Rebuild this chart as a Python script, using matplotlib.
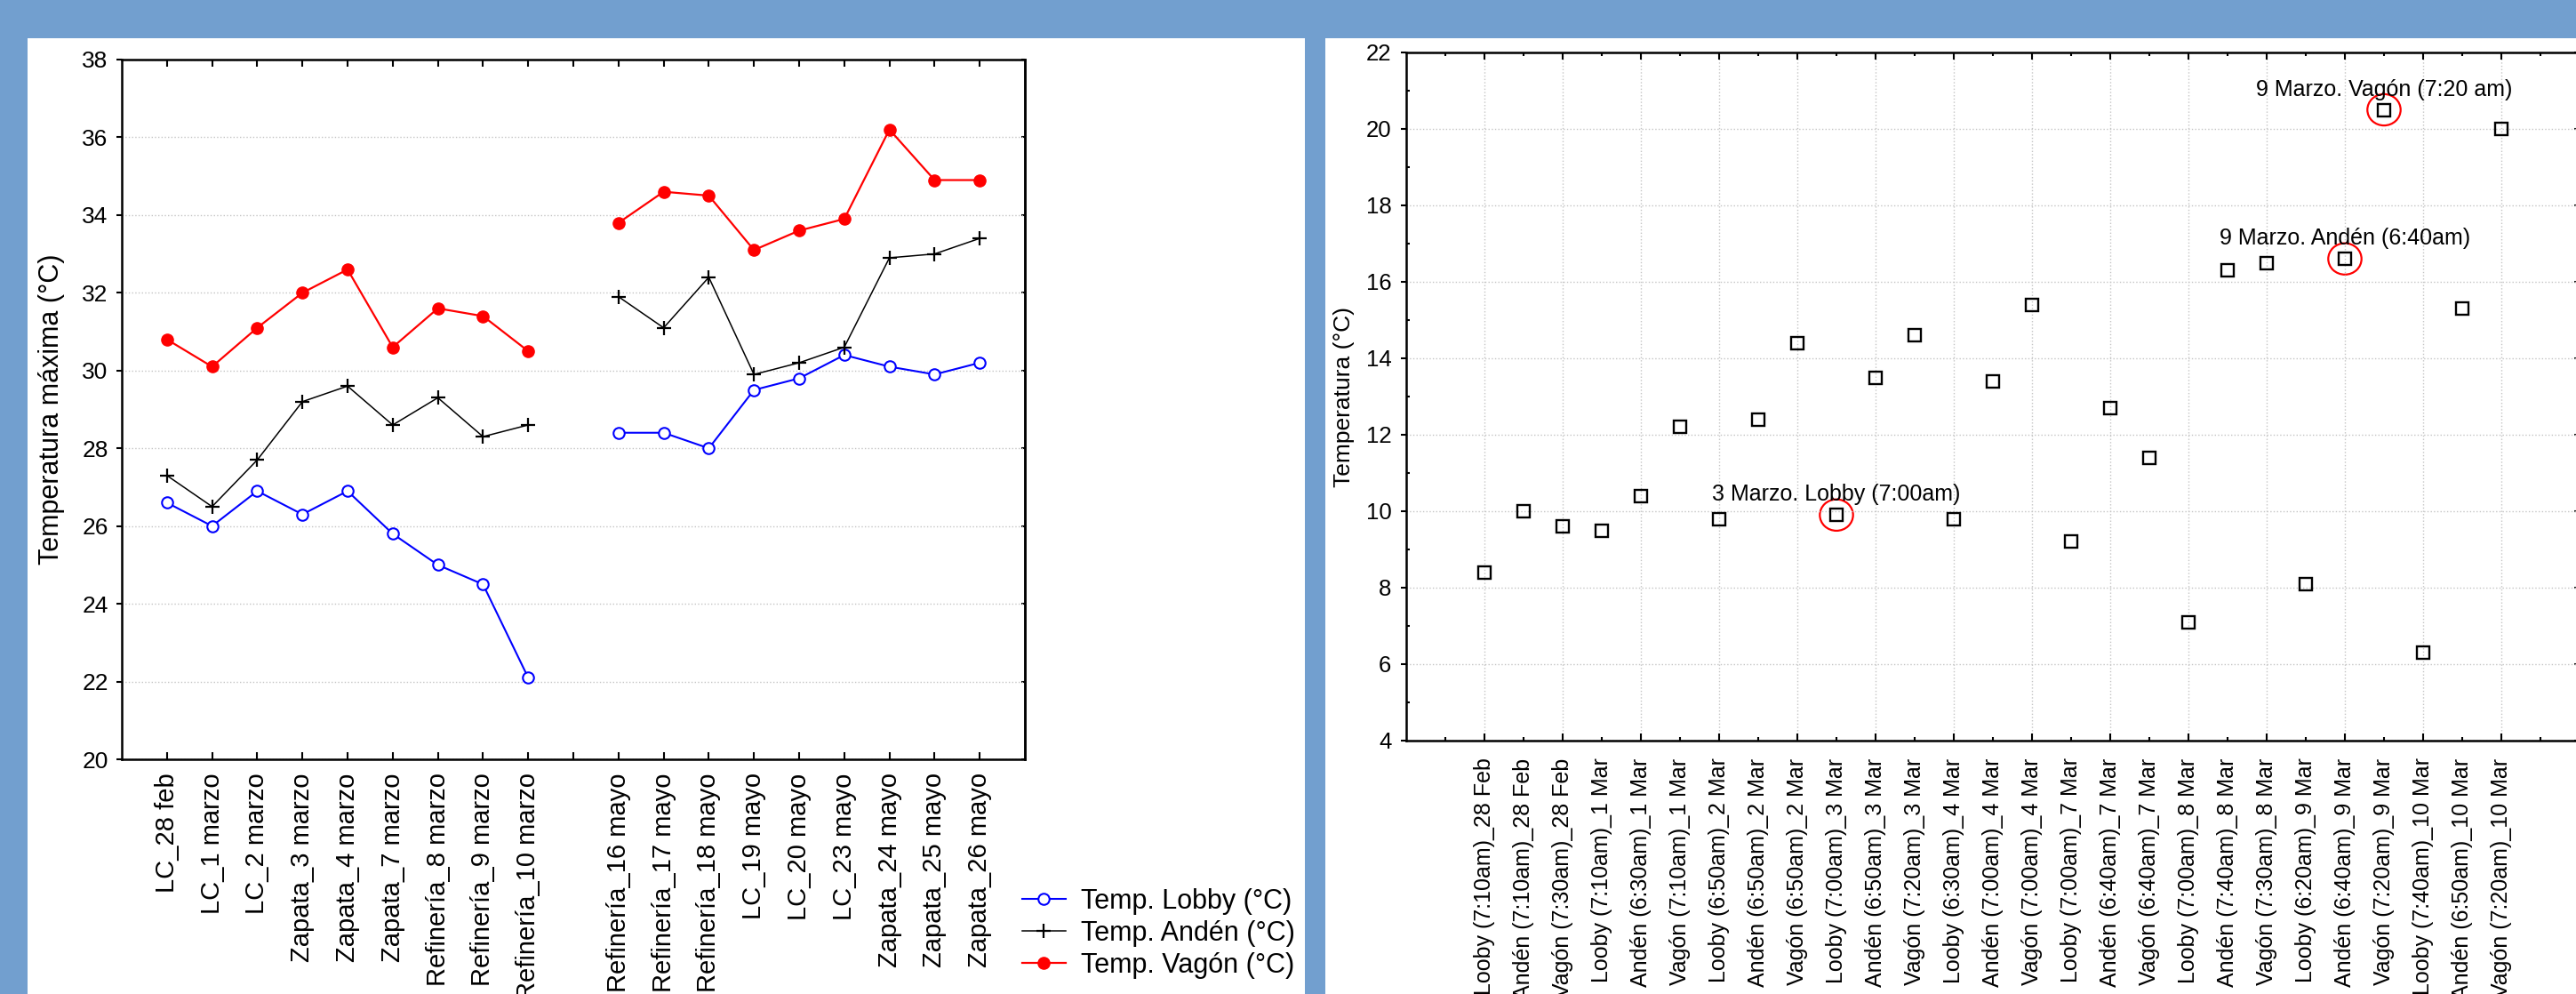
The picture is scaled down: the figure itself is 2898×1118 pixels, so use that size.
import matplotlib.pyplot as plt
import numpy as np
from matplotlib.patches import Rectangle, Ellipse

plt.rcParams['font.family'] = ['Liberation Sans', 'DejaVu Sans']

# left chart: maximum temperature per site and day
dias = ['LC_28 feb', 'LC_1 marzo', 'LC_2 marzo', 'Zapata_3 marzo', 'Zapata_4 marzo',
        'Zapata_7 marzo', 'Refinería_8 marzo', 'Refinería_9 marzo', 'Refinería_10 marzo', '',
        'Refinería_16 mayo', 'Refinería_17 mayo', 'Refinería_18 mayo', 'LC_19 mayo',
        'LC_20 mayo', 'LC_23 mayo', 'Zapata_24 mayo', 'Zapata_25 mayo', 'Zapata_26 mayo']
lobby = [26.6, 26.0, 26.9, 26.3, 26.9, 25.8, 25.0, 24.5, 22.1, np.nan,
         28.4, 28.4, 28.0, 29.5, 29.8, 30.4, 30.1, 29.9, 30.2]
anden = [27.3, 26.5, 27.7, 29.2, 29.6, 28.6, 29.3, 28.3, 28.6, np.nan,
         31.9, 31.1, 32.4, 29.9, 30.2, 30.6, 32.9, 33.0, 33.4]
vagon = [30.8, 30.1, 31.1, 32.0, 32.6, 30.6, 31.6, 31.4, 30.5, np.nan,
         33.8, 34.6, 34.5, 33.1, 33.6, 33.9, 36.2, 34.9, 34.9]

# right chart: morning readings
lecturas = ['Looby (7:10am)_28 Feb', 'Andén (7:10am)_28 Feb', 'Vagón (7:30am)_28 Feb',
            'Looby (7:10am)_1 Mar', 'Andén (6:30am)_1 Mar', 'Vagón (7:10am)_1 Mar',
            'Looby (6:50am)_2 Mar', 'Andén (6:50am)_2 Mar', 'Vagón (6:50am)_2 Mar',
            'Looby (7:00am)_3 Mar', 'Andén (6:50am)_3 Mar', 'Vagón (7:20am)_3 Mar',
            'Looby (6:30am)_4 Mar', 'Andén (7:00am)_4 Mar', 'Vagón (7:00am)_4 Mar',
            'Looby (7:00am)_7 Mar', 'Andén (6:40am)_7 Mar', 'Vagón (6:40am)_7 Mar',
            'Looby (7:00am)_8 Mar', 'Andén (7:40am)_8 Mar', 'Vagón (7:30am)_8 Mar',
            'Looby (6:20am)_9 Mar', 'Andén (6:40am)_9 Mar', 'Vagón (7:20am)_9 Mar',
            'Looby (7:40am)_10 Mar', 'Andén (6:50am)_10 Mar', 'Vagón (7:20am)_10 Mar']
temps = [8.4, 10.0, 9.6, 9.5, 10.4, 12.2, 9.8, 12.4, 14.4, 9.9, 13.5, 14.6, 9.8, 13.4,
         15.4, 9.2, 12.7, 11.4, 7.1, 16.3, 16.5, 8.1, 16.6, 20.5, 6.3, 15.3, 20.0]
destacados = {9: '3 Marzo. Lobby (7:00am)',
              22: '9 Marzo. Andén (6:40am)',
              23: '9 Marzo. Vagón (7:20 am)'}

W, H = 2898, 1118
fig = plt.figure(figsize=(W / 100, H / 100), dpi=100, facecolor='#729FCF')
fig.add_artist(Rectangle((31 / W, 0), 1437 / W, 1075 / H, transform=fig.transFigure,
                         fc='white', ec='none', zorder=-1))
fig.add_artist(Rectangle((1491 / W, 0), 1, 1075 / H, transform=fig.transFigure,
                         fc='white', ec='none', zorder=-1))

grid_kw = dict(color='#c4c4c4', ls=':', lw=1)

# ---- left plot
ax1 = fig.add_axes([137 / W, 264 / H, 1016 / W, 787 / H])
x = np.arange(len(dias))
ax1.plot(x, lobby, color='blue', lw=1.5, marker='o', ms=9, mfc='white', mec='blue',
         mew=1.5, label='Temp. Lobby (°C)')
ax1.plot(x, anden, color='black', lw=1.1, marker='+', ms=11, mew=1.6,
         label='Temp. Andén (°C)')
ax1.plot(x, vagon, color='red', lw=1.6, marker='o', ms=9.5, mfc='red', mec='red',
         label='Temp. Vagón (°C)')
ax1.set_xlim(-1, len(dias))
ax1.set_ylim(20, 38)
ax1.set_yticks(np.arange(20, 39, 2))
ax1.set_xticks(x, dias, rotation=90, fontsize=21)
ax1.tick_params(axis='x', direction='in', top=True, length=6, width=1.5, pad=11)
ax1.tick_params(axis='y', direction='out', length=4, width=1.5, labelsize=19, pad=7)
ax1.grid(axis='y', **grid_kw)
ax1.set_ylabel('Temperatura máxima (°C)', fontsize=22)
ax1.yaxis.set_label_coords(-0.063, 0.5)
sec1 = ax1.secondary_yaxis('right')
sec1.set_yticks(np.arange(20, 39, 2))
sec1.tick_params(direction='in', length=3, width=1.5, labelright=False)
for sp in list(ax1.spines.values()) + [sec1.spines['right']]:
    sp.set_linewidth(1.8)

fig.legend(handles=ax1.get_lines(), loc='center left',
           bbox_to_anchor=(1150 / W, (H - 1050) / H), frameon=False, fontsize=22,
           handlelength=1.6, handletextpad=0.55, labelspacing=0.2, borderpad=0,
           borderaxespad=0)

# ---- right plot
ax2 = fig.add_axes([1582 / W, 285 / H, 1320 / W, 774 / H])
xs = np.arange(len(lecturas))
ax2.plot(xs, temps, ls='none', marker='s', ms=9.5, mfc='none', mec='black', mew=1.7)
ax2.set_xlim(-2, len(lecturas) + 1)
ax2.set_ylim(4, 22)
ax2.set_yticks(np.arange(4, 23, 2))
ax2.set_yticks(np.arange(5, 22, 2), minor=True)
ax2.set_xticks(xs[::2], [lecturas[i] for i in xs[::2]], rotation=90, fontsize=18)
minor_pos = np.arange(-1, len(lecturas) + 1, 2)
ax2.set_xticks(minor_pos, [lecturas[i] if 0 <= i < len(lecturas) else '' for i in minor_pos],
               minor=True, rotation=90, fontsize=18)
ax2.tick_params(axis='x', which='major', direction='in', top=True, length=6, width=1.5, pad=14)
ax2.tick_params(axis='x', which='minor', direction='in', top=True, length=3, width=1.5, pad=14)
ax2.tick_params(axis='y', which='major', direction='out', length=4, width=1.5, labelsize=18.5, pad=8)
ax2.tick_params(axis='y', which='minor', direction='in', length=3, width=1.5)
ax2.grid(which='major', **grid_kw)
ax2.set_ylabel('Temperatura (°C)', fontsize=19)
ax2.yaxis.set_label_coords(-0.044, 0.5)
sec2 = ax2.secondary_yaxis('right')
sec2.set_yticks(np.arange(4, 23, 2))
sec2.tick_params(direction='in', length=4, width=1.5, labelright=False)
for sp in list(ax2.spines.values()) + [sec2.spines['right']]:
    sp.set_linewidth(1.8)

for i, txt in destacados.items():
    ax2.add_patch(Ellipse((i, temps[i]), 0.85, 0.82, fill=False, ec='red', lw=1.6))
    ax2.annotate(txt, (i, temps[i]), xytext=(0, 16.5), textcoords='offset points',
                 ha='center', va='center', fontsize=18)

fig.savefig('out.png', dpi=100, facecolor=fig.get_facecolor())
